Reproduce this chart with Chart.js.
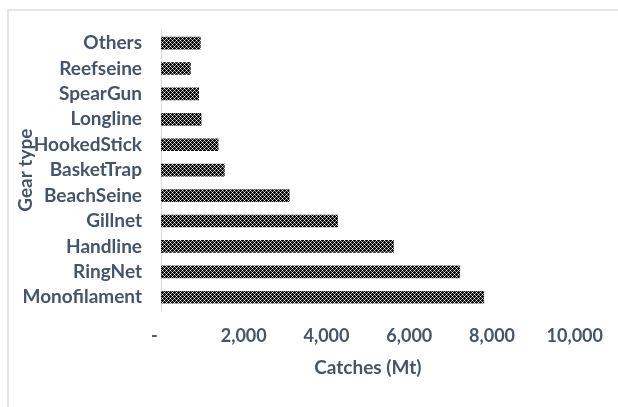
<!DOCTYPE html>
<html>
<head>
<meta charset="utf-8">
<script src="https://cdn.jsdelivr.net/npm/chart.js@4/dist/chart.umd.min.js"></script>
<style>
  html, body { margin: 0; padding: 0; background: #fff; }
  #wrap { position: relative; width: 618px; height: 407px; overflow: hidden; }
  #frame {
    position: absolute; left: 7px; top: 9px; width: 800px; height: 600px;
    border-top: 2px solid #e2e6ec; border-left: 2px solid #e2e6ec;
  }
  #chart { position: absolute; left: 0; top: 0; }
</style>
</head>
<body>
<div id="wrap">
  <div id="frame"></div>
  <canvas id="chart" width="618" height="407"></canvas>
</div>
<script>
/* Catches by gear type, horizontal bars */

const gearTypes = ['Others', 'Reefseine', 'SpearGun', 'Longline', 'HookedStick', 'BasketTrap',
  'BeachSeine', 'Gillnet', 'Handline', 'RingNet', 'Monofilament'];
const catches = [950, 710, 910, 970, 1380, 1530, 3100, 4270, 5620, 7220, 7800];
const xTicks = [0, 2000, 4000, 6000, 8000, 10000];

const TEXT = '#44546a';
const FAMILY = 'Lato, "Liberation Sans", sans-serif';
const TICK_FONT = { family: FAMILY, weight: 'bold', size: 18 };
const LABEL_FONT = { family: FAMILY, weight: 'bold', size: 19 };

/* ---- Dark diamond-lattice fill for the bars ---- */
function latticePattern() {
  const c = document.createElement('canvas');
  c.width = 8; c.height = 8;
  const g = c.getContext('2d');
  g.fillStyle = '#0a0a0a';
  g.fillRect(0, 0, 8, 8);
  for (let y = 0; y < 8; y++) {
    for (let x = 0; x < 8; x++) {
      const diag = (x + y) % 4 === 0 || (x - y + 8) % 4 === 0;
      if (diag && y % 2 === 0) { g.fillStyle = '#fff'; g.fillRect(x, y, 1, 1); }
      else if (diag) { g.fillStyle = '#9a9a9a'; g.fillRect(x, y, 1, 1); }
    }
  }
  return g.createPattern(c, 'repeat');
}

// accounting-style zero, shifted left like the other labels' leading digit
const fmtTick = (v) => (v === 0 ? '-   ' : v.toLocaleString('en-US'));

new Chart(document.getElementById('chart'), {
  type: 'bar',
  data: {
    labels: gearTypes,
    datasets: [{ label: 'Catches', data: catches, backgroundColor: latticePattern(), barThickness: 12 }],
  },
  options: {
    indexAxis: 'y', responsive: false, animation: false,
    layout: { padding: { top: 28, right: 37, left: 0, bottom: 0 } },
    plugins: { legend: { display: false }, tooltip: { enabled: false } },
    scales: {
      x: {
        min: 0, max: 10000,
        afterBuildTicks: (s) => { s.ticks = xTicks.map((v) => ({ value: v })); },
        afterFit: (s) => { s.height = 97; },
        grid: { display: false, drawTicks: false },
        border: { display: false },
        ticks: { color: TEXT, font: TICK_FONT, padding: 15, maxRotation: 0, autoSkip: false, callback: fmtTick },
        title: { display: true, text: 'Catches (Mt)', color: TEXT, font: LABEL_FONT, padding: { top: 0, bottom: 28 } },
      },
      y: {
        afterFit: (s) => { s.width = 161; },
        grid: { display: false, drawTicks: false },
        border: { display: true, color: '#d9d9d9', width: 1 },
        ticks: { color: TEXT, font: LABEL_FONT, padding: 19, autoSkip: false },
        title: { display: true, text: 'Gear type', color: TEXT, font: LABEL_FONT, padding: { top: 14, bottom: 0 } },
      },
    },
  },
});
</script>
</body>
</html>
